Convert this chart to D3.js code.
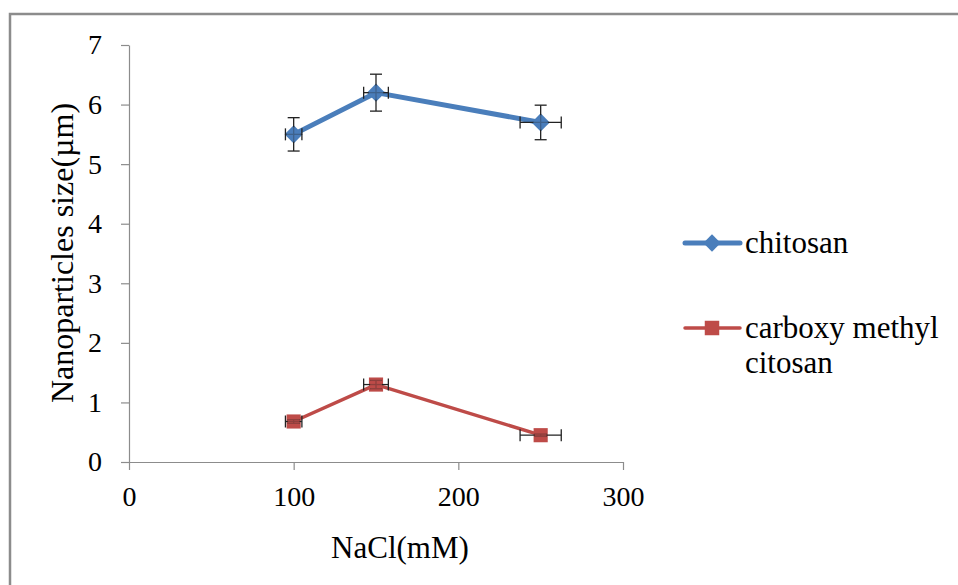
<!DOCTYPE html>
<html>
<head>
<meta charset="utf-8">
<script src="https://cdn.jsdelivr.net/npm/d3@7"></script>
<style>
  body { margin: 0; background: #fff; }
</style>
</head>
<body>
<div id="chart"></div>
<script>
// Data
var nacl = [100, 150, 250];
var chitosan = [5.5, 6.2, 5.7];
var chitosanYErr = [0.28, 0.31, 0.29];
var chitosanXErr = [5, 7.5, 12.5];
var cmc = [0.68, 1.3, 0.45];
var cmcYErr = [0.03, 0.07, 0.02];
var cmcXErr = [5, 7.5, 12.5];
var xTicks = [0, 100, 200, 300];
var yTicks = [0, 1, 2, 3, 4, 5, 6, 7];

var serif = "'Times New Roman', 'Liberation Serif', Tinos, 'DejaVu Serif', serif";

var svgWidth = 958;
var svgHeight = 585;

var margin = { top: 45, left: 129 };
var width = 623 - 129;
var height = 462 - 45;

var svg = d3.select("#chart")
    .append("svg")
    .attr("width", svgWidth)
    .attr("height", svgHeight)
    .style("font-family", serif);

// outer frame
svg.append("rect")
    .attr("x", 10)
    .attr("y", 14)
    .attr("width", 970)
    .attr("height", 600)
    .attr("fill", "none")
    .attr("stroke", "#8c8c8c")
    .attr("stroke-width", 2.5);

var chartGroup = svg.append("g")
    .attr("transform", `translate(${margin.left}, ${margin.top})`);

var xScale = d3.scaleLinear().domain([0, 300]).range([0, width]);
var yScale = d3.scaleLinear().domain([0, 7]).range([height, 0]);

var bottomAxis = d3.axisBottom(xScale).tickValues(xTicks).tickFormat(d3.format("d"))
    .tickSize(8).tickPadding(16).tickSizeOuter(0);
var leftAxis = d3.axisLeft(yScale).tickValues(yTicks).tickFormat(d3.format("d"))
    .tickSize(8).tickPadding(19).tickSizeOuter(0);

var xAxis = chartGroup.append("g")
    .attr("transform", `translate(0, ${height})`)
    .call(bottomAxis);
var yAxis = chartGroup.append("g")
    .call(leftAxis);

[xAxis, yAxis].forEach(function (ax) {
    ax.attr("font-family", null);
    ax.selectAll("path, line").attr("stroke", "#8c8c8c").attr("stroke-width", 1.2);
    ax.selectAll("text").attr("fill", "#000").style("font-family", serif).style("font-size", "28px");
});

// axis titles
chartGroup.append("text")
    .attr("x", 271)
    .attr("y", height + 96)
    .attr("text-anchor", "middle")
    .style("font-size", "31px")
    .text("NaCl(mM)");

chartGroup.append("text")
    .attr("transform", "rotate(-90)")
    .attr("x", -(253 - margin.top))
    .attr("y", -56)
    .attr("text-anchor", "middle")
    .style("font-size", "32px")
    .text("Nanoparticles size(µm)");

var series = [
    { name: "chitosan", values: chitosan, yErr: chitosanYErr, xErr: chitosanXErr, color: "#4a7ebb", width: 5, rot: 45, size: 165 },
    { name: "cmc", values: cmc, yErr: cmcYErr, xErr: cmcXErr, color: "#be4b48", width: 3.5, rot: 0, size: 200 }
];

var line = d3.line()
    .x(d => xScale(d[0]))
    .y(d => yScale(d[1]));

series.forEach(function (s) {
    var pts = nacl.map((x, i) => [x, s.values[i], s.xErr[i], s.yErr[i]]);

    chartGroup.append("path")
        .datum(pts)
        .attr("d", line)
        .attr("fill", "none")
        .attr("stroke", s.color)
        .attr("stroke-width", s.width)
        .attr("stroke-linejoin", "round");

    // markers
    chartGroup.selectAll(null)
        .data(pts)
        .enter()
        .append("path")
        .attr("transform", d => `translate(${xScale(d[0])}, ${yScale(d[1])}) rotate(${s.rot})`)
        .attr("d", d3.symbol().type(d3.symbolSquare).size(s.size))
        .attr("fill", s.color);

    // error bars
    var eg = chartGroup.append("g").attr("stroke", "#222").attr("stroke-width", 1.3);
    pts.forEach(function (d) {
        var cx = xScale(d[0]), cy = yScale(d[1]);
        var x0 = xScale(d[0] - d[2]), x1 = xScale(d[0] + d[2]);
        var y0 = yScale(d[1] - d[3]), y1 = yScale(d[1] + d[3]);
        eg.append("line").attr("x1", x0).attr("x2", x1).attr("y1", cy).attr("y2", cy);
        eg.append("line").attr("x1", x0).attr("x2", x0).attr("y1", cy - 6).attr("y2", cy + 6);
        eg.append("line").attr("x1", x1).attr("x2", x1).attr("y1", cy - 6).attr("y2", cy + 6);
        eg.append("line").attr("x1", cx).attr("x2", cx).attr("y1", y0).attr("y2", y1);
        eg.append("line").attr("x1", cx - 6).attr("x2", cx + 6).attr("y1", y0).attr("y2", y0);
        eg.append("line").attr("x1", cx - 6).attr("x2", cx + 6).attr("y1", y1).attr("y2", y1);
    });
    // markers again, partly over the error bars
    chartGroup.selectAll(null)
        .data(pts)
        .enter()
        .append("path")
        .attr("transform", d => `translate(${xScale(d[0])}, ${yScale(d[1])}) rotate(${s.rot})`)
        .attr("d", d3.symbol().type(d3.symbolSquare).size(s.size * 0.7))
        .attr("fill", s.color)
        .attr("opacity", 0.7);
});

// legend
var legend = svg.append("g");
var legendItems = [
    { color: "#4a7ebb", width: 5, y: 243, rot: 45, size: 150, lines: ["chitosan"] },
    { color: "#be4b48", width: 3.5, y: 328, rot: 0, size: 210, lines: ["carboxy methyl", "citosan"] }
];
legendItems.forEach(function (it) {
    legend.append("line")
        .attr("x1", 685).attr("x2", 740)
        .attr("y1", it.y).attr("y2", it.y)
        .attr("stroke", it.color)
        .attr("stroke-width", it.width)
        .attr("stroke-linecap", "round");
    legend.append("path")
        .attr("transform", `translate(712, ${it.y}) rotate(${it.rot})`)
        .attr("d", d3.symbol().type(d3.symbolSquare).size(it.size))
        .attr("fill", it.color);
    it.lines.forEach(function (t, i) {
        legend.append("text")
            .attr("x", 745)
            .attr("y", it.y + 10 + i * 35)
            .style("font-size", "31px")
            .text(t);
    });
});
</script>
</body>
</html>
